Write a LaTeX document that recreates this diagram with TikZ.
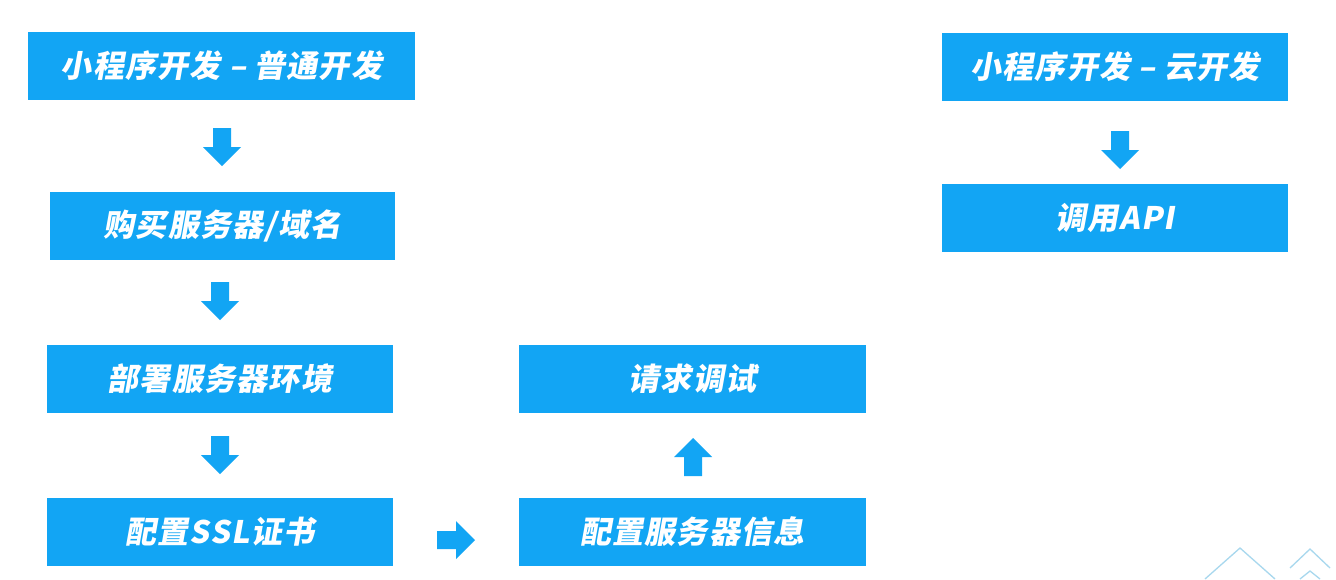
\documentclass[tikz,border=0pt]{standalone}
\usepackage{fontspec}
\newfontfamily\cjk{Noto Sans CJK SC}[FakeSlant=0.18,LetterSpace=4]
\usetikzlibrary{calc}
\definecolor{bx}{HTML}{12A5F4}
\definecolor{dec}{HTML}{A8D8EE}
\newcommand{\blkarrow}[3]{% center, rotation, name
  \begin{scope}[shift={(#1)},rotate=#2]
  \fill[bx] (-19,-9) -- (0,-9) -- (0,-19) -- (19,0) -- (0,19) -- (0,9) -- (-19,9) -- cycle;
  \coordinate (#3) at (0,0);
  \end{scope}}
\begin{document}
\begin{tikzpicture}[x=1pt,y=-1pt,
  box/.style={fill=bx,draw=none,minimum height=68pt,text=white,font=\cjk\fontsize{31}{34}\selectfont\bfseries,inner sep=0pt}]
\useasboundingbox (0,0) rectangle (1336,579);
\fill[white] (0,0) rectangle (1336,579);
\node[box,minimum width=387pt] (a) at (221.5,66) {小程序开发 – 普通开发};
\node[box,minimum width=345pt] (b) at (222.5,226) {购买服务器/域名};
\node[box,minimum width=346pt] (c) at (220,379) {部署服务器环境};
\node[box,minimum width=346pt] (d) at (220,532) {配置SSL证书};
\node[box,minimum width=347pt] (e) at (692.5,532) {配置服务器信息};
\node[box,minimum width=347pt] (f) at (692.5,379) {请求调试};
\node[box,minimum width=346pt] (g) at (1115,67) {小程序开发 – 云开发};
\node[box,minimum width=346pt] (h) at (1115,218) {调用API};
\blkarrow{222,147}{-90}{ab}
\blkarrow{220,301}{-90}{bc}
\blkarrow{220,455}{-90}{cd}
\blkarrow{456,540}{0}{de}
\blkarrow{693,457}{90}{ef}
\blkarrow{1120,150}{-90}{gh}
\draw[dec,line width=1.3pt] (1205,579) -- (1240,548) -- (1275,579);
\draw[dec,line width=1.3pt] (1290,568) -- (1310,549) -- (1330,568);
\draw[dec,line width=1.3pt] (1300,579) -- (1310,571) -- (1320,579);
\end{tikzpicture}
\end{document}
